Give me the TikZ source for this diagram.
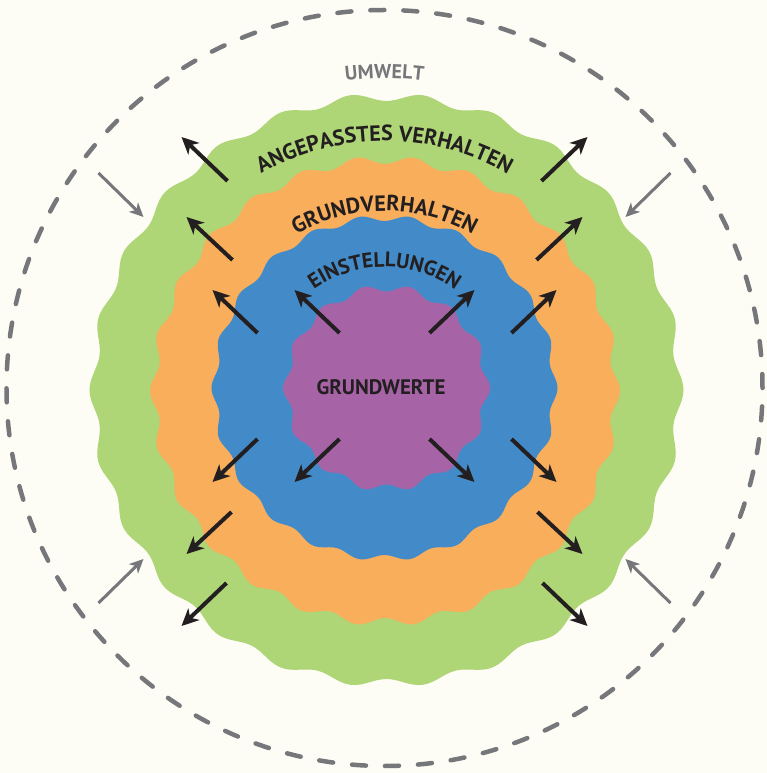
\documentclass[tikz,border=0pt]{standalone}
\usepackage{fontspec}
\setmainfont{PT Sans}
\usetikzlibrary{arrows.meta,decorations.text}

\definecolor{bgcream}{HTML}{FEFDF5}
\definecolor{ringgreen}{HTML}{AED576}
\definecolor{ringorange}{HTML}{F9AE5C}
\definecolor{ringblue}{HTML}{438BC8}
\definecolor{ringpurple}{HTML}{A664A7}
\definecolor{umweltgray}{HTML}{76777B}
\definecolor{inkdark}{HTML}{231F20}

\newcommand{\ringfont}{\fontsize{22}{22}\selectfont\bfseries}
\newcommand{\innerfont}{\fontsize{21}{21}\selectfont\bfseries}
\newcommand{\umweltfont}{\fontsize{20}{20}\selectfont\bfseries}

\begin{document}
\begin{tikzpicture}[x=1pt,y=1pt,
    outarrow/.style={draw=inkdark, line width=4pt, -{Stealth[length=17pt,width=16pt,inset=5pt]}},
    inarrow/.style={draw=umweltgray, line width=3pt, -{Stealth[length=14pt,width=13pt,inset=4pt]}},
    umweltline/.style={draw=umweltgray, line width=4.5pt, line cap=round, dash pattern=on 14pt off 19pt}]

    % Background
    \useasboundingbox (-384.5,-385) rectangle (382.5,388);
    \fill[bgcream] (-384.5,-385) rectangle (382.5,388);

    % Umwelt
    \draw[umweltline] (0,0) circle[radius=378];
    \path[decorate, decoration={text along path, text align=center,
        text={|\color{umweltgray}\umweltfont|UMWELT}}]
        (140:310) arc[start angle=140, end angle=40, radius=310];

    % Rings
    \fill[ringgreen] plot[domain=0:360, samples=361, variable=\t]
        ([shift={(2,-2)}]\t:{293+4*cos(26*\t)}) -- cycle;
    \fill[ringorange] plot[domain=0:360, samples=361, variable=\t]
        ([shift={(0.5,-3)}]\t:{231+4*cos(26*\t)}) -- cycle;
    \fill[ringblue] plot[domain=0:360, samples=361, variable=\t]
        (\t:{170+3*cos(22*\t)}) -- cycle;
    \fill[ringpurple] plot[domain=0:360, samples=361, variable=\t]
        ([shift={(2,0)}]\t:{100+3.5*cos(14*\t)}) -- cycle;

    % Ring labels
    \path[decorate, decoration={text along path, text align=center,
        text={|\color{inkdark}\ringfont|ANGEPASSTES VERHALTEN}}]
        (160:247) arc[start angle=160, end angle=20, radius=247];
    \path[decorate, decoration={text along path, text align=center,
        text={|\color{inkdark}\ringfont|GRUNDVERHALTEN}}]
        (160:177) arc[start angle=160, end angle=20, radius=177];
    \path[decorate, decoration={text along path, text align=center,
        text={|\color{inkdark}\innerfont|EINSTELLUNGEN}}]
        (170:121) arc[start angle=170, end angle=10, radius=121];
    \node[text=inkdark, font=\fontsize{21}{21}\selectfont\bfseries] (grundwerte) at (-3.5,1) {GRUNDWERTE};

    % Arrows outwards
    \foreach \s in {1,-1} {
        \foreach \i/\tx/\ty/\hx/\hy in {a/45/55/90/98, b/127/55/172/98, c/152/128/198/171, d/157/207/203/251,
                                        e/45/-51/90/-94, f/127/-51/172/-94, g/153/-124/198/-166, h/158/-195/203/-238} {
            \coordinate (tail-\i) at (\s*\tx,\ty);
            \coordinate (tip-\i) at (\s*\hx,\hy);
            \draw[outarrow] (tail-\i) -- (tip-\i);
        }
    }

    % Arrows from Umwelt
    \foreach \s in {1,-1} {
        \foreach \i/\sy in {up/1,down/-1} {
            \coordinate (from-\i) at (\s*286,\sy*215);
            \coordinate (to-\i) at (\s*241,\sy*171);
            \draw[inarrow] (from-\i) -- (to-\i);
        }
    }
\end{tikzpicture}
\end{document}
